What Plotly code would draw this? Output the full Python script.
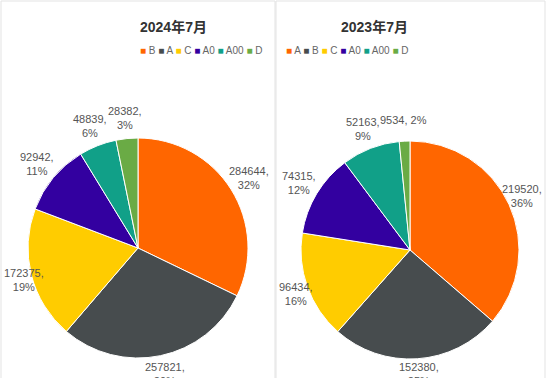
import math
import plotly.graph_objects as go

labels_2024 = ["B", "A", "C", "A0", "A00", "D"]
values_2024 = [284644, 257821, 172375, 92942, 48839, 28382]
labels_2023 = ["A", "B", "C", "A0", "A00", "D"]
values_2023 = [219520, 152380, 96434, 74315, 52163, 9534]
titles = ["2024年7月", "2023年7月"]
colors = ["#FF6600", "#474C4E", "#FFCC00", "#3300A0", "#11A088", "#6AAB45"]

W, H = 550, 378
FONT = "Arial, Liberation Sans, Noto Sans CJK SC, sans-serif"
LABEL_R = 1.19          # label distance from centre, in pie radii
CHAR_W = 6.1            # approx. px per character of 11px label font
BOTTOM_LIMIT = 374      # lowest label centre, px from top

# panel layout (pixels): panel x-range, pie centre, pie radius
panels = [
    dict(title=titles[0], labels=labels_2024, values=values_2024,
         px0=0, px1=275, box0=1, box1=275, cx=138, cy=248, r=110, single_line=[]),
    dict(title=titles[1], labels=labels_2023, values=values_2023,
         px0=276, px1=550, box0=276, box1=545, cx=410, cy=250, r=109, single_line=[5]),
]
PANEL_TOP = 60  # top of the label/axis area


def legend_text(labels):
    return " ".join("<span style='color:%s'>■</span> %s" % (c, l) for l, c in zip(labels, colors))


fig = go.Figure()
annotations = []
shapes = []
layout_axes = {}

for i, p in enumerate(panels):
    n = "" if i == 0 else str(i + 1)
    xa, ya = "x" + n, "y" + n
    cx, cy, r = p["cx"], p["cy"], p["r"]

    fig.add_trace(go.Pie(
        labels=p["labels"], values=p["values"], sort=False, direction="clockwise", rotation=0,
        marker=dict(colors=colors, line=dict(color="white", width=1)),
        textinfo="none", showlegend=False, hoverinfo="label+value+percent",
        domain=dict(x=[(cx - r) / W, (cx + r) / W], y=[1 - (cy + r) / H, 1 - (cy - r) / H]),
    ))
    # invisible axes in units of pie radius, centred on the pie
    fig.add_trace(go.Scatter(x=[], y=[], xaxis=xa, yaxis=ya, showlegend=False, hoverinfo="skip"))
    xr = [(p["px0"] - cx) / r, (p["px1"] - cx) / r]
    yr = [(cy - H) / r, (cy - PANEL_TOP) / r]
    layout_axes["xaxis" + n] = dict(domain=[p["px0"] / W, p["px1"] / W], range=xr,
                                    visible=False, fixedrange=True, anchor=ya)
    layout_axes["yaxis" + n] = dict(domain=[0, 1 - PANEL_TOP / H], range=yr,
                                    visible=False, fixedrange=True, anchor=xa)

    # slice labels, placed along each slice's mid-angle
    total = sum(p["values"])
    cum = 0
    for k, v in enumerate(p["values"]):
        frac = (cum + v / 2) / total
        cum += v
        ang = 2 * math.pi * frac
        x = LABEL_R * math.sin(ang)
        y = LABEL_R * math.cos(ang)
        pct = "%d%%" % round(100 * v / total)
        if k in p["single_line"]:
            txt = "%d, %s" % (v, pct)
            wpx = len(txt) * CHAR_W
        else:
            txt = "%d,<br>%s" % (v, pct)
            wpx = (len(str(v)) + 1) * CHAR_W
        half = wpx / 2 / r
        left_lim = (p["box0"] + 2 - cx) / r
        right_lim = (p["box1"] - 2 - cx) / r
        if x - half < left_lim:
            x = left_lim + half
        if x + half > right_lim:
            x = right_lim - half
        y = max(y, (cy - BOTTOM_LIMIT) / r)
        annotations.append(dict(text=txt, x=x, y=y, xref=xa, yref=ya, showarrow=False,
                                xanchor="center", yanchor="middle", align="center",
                                font=dict(size=11, color="#555555", family=FONT)))

    annotations.append(dict(text="<b>" + p["title"] + "</b>", x=cx / W, y=1 - 17 / H,
                            xref="paper", yref="paper", showarrow=False,
                            font=dict(size=14, color="#333333", family=FONT)))
    annotations.append(dict(text=legend_text(p["labels"]), x=cx / W, y=1 - 43 / H,
                            xref="paper", yref="paper", showarrow=False,
                            font=dict(size=10, color="#666666", family=FONT)))
    shapes.append(dict(type="rect", xref="paper", yref="paper", x0=p["box0"] / W, x1=p["box1"] / W,
                       y0=-0.05, y1=1 - 1 / H, line=dict(color="#E3E3E3", width=1), layer="below"))

fig.update_layout(
    width=W, height=H,
    margin=dict(l=0, r=0, t=0, b=0),
    paper_bgcolor="white", plot_bgcolor="rgba(0,0,0,0)",
    font=dict(family=FONT),
    showlegend=False,
    shapes=shapes,
    annotations=annotations,
    **layout_axes,
)

fig.write_html("out.html", config={"displayModeBar": False},
               post_script="document.body.style.margin='0';document.body.style.overflow='hidden';")
